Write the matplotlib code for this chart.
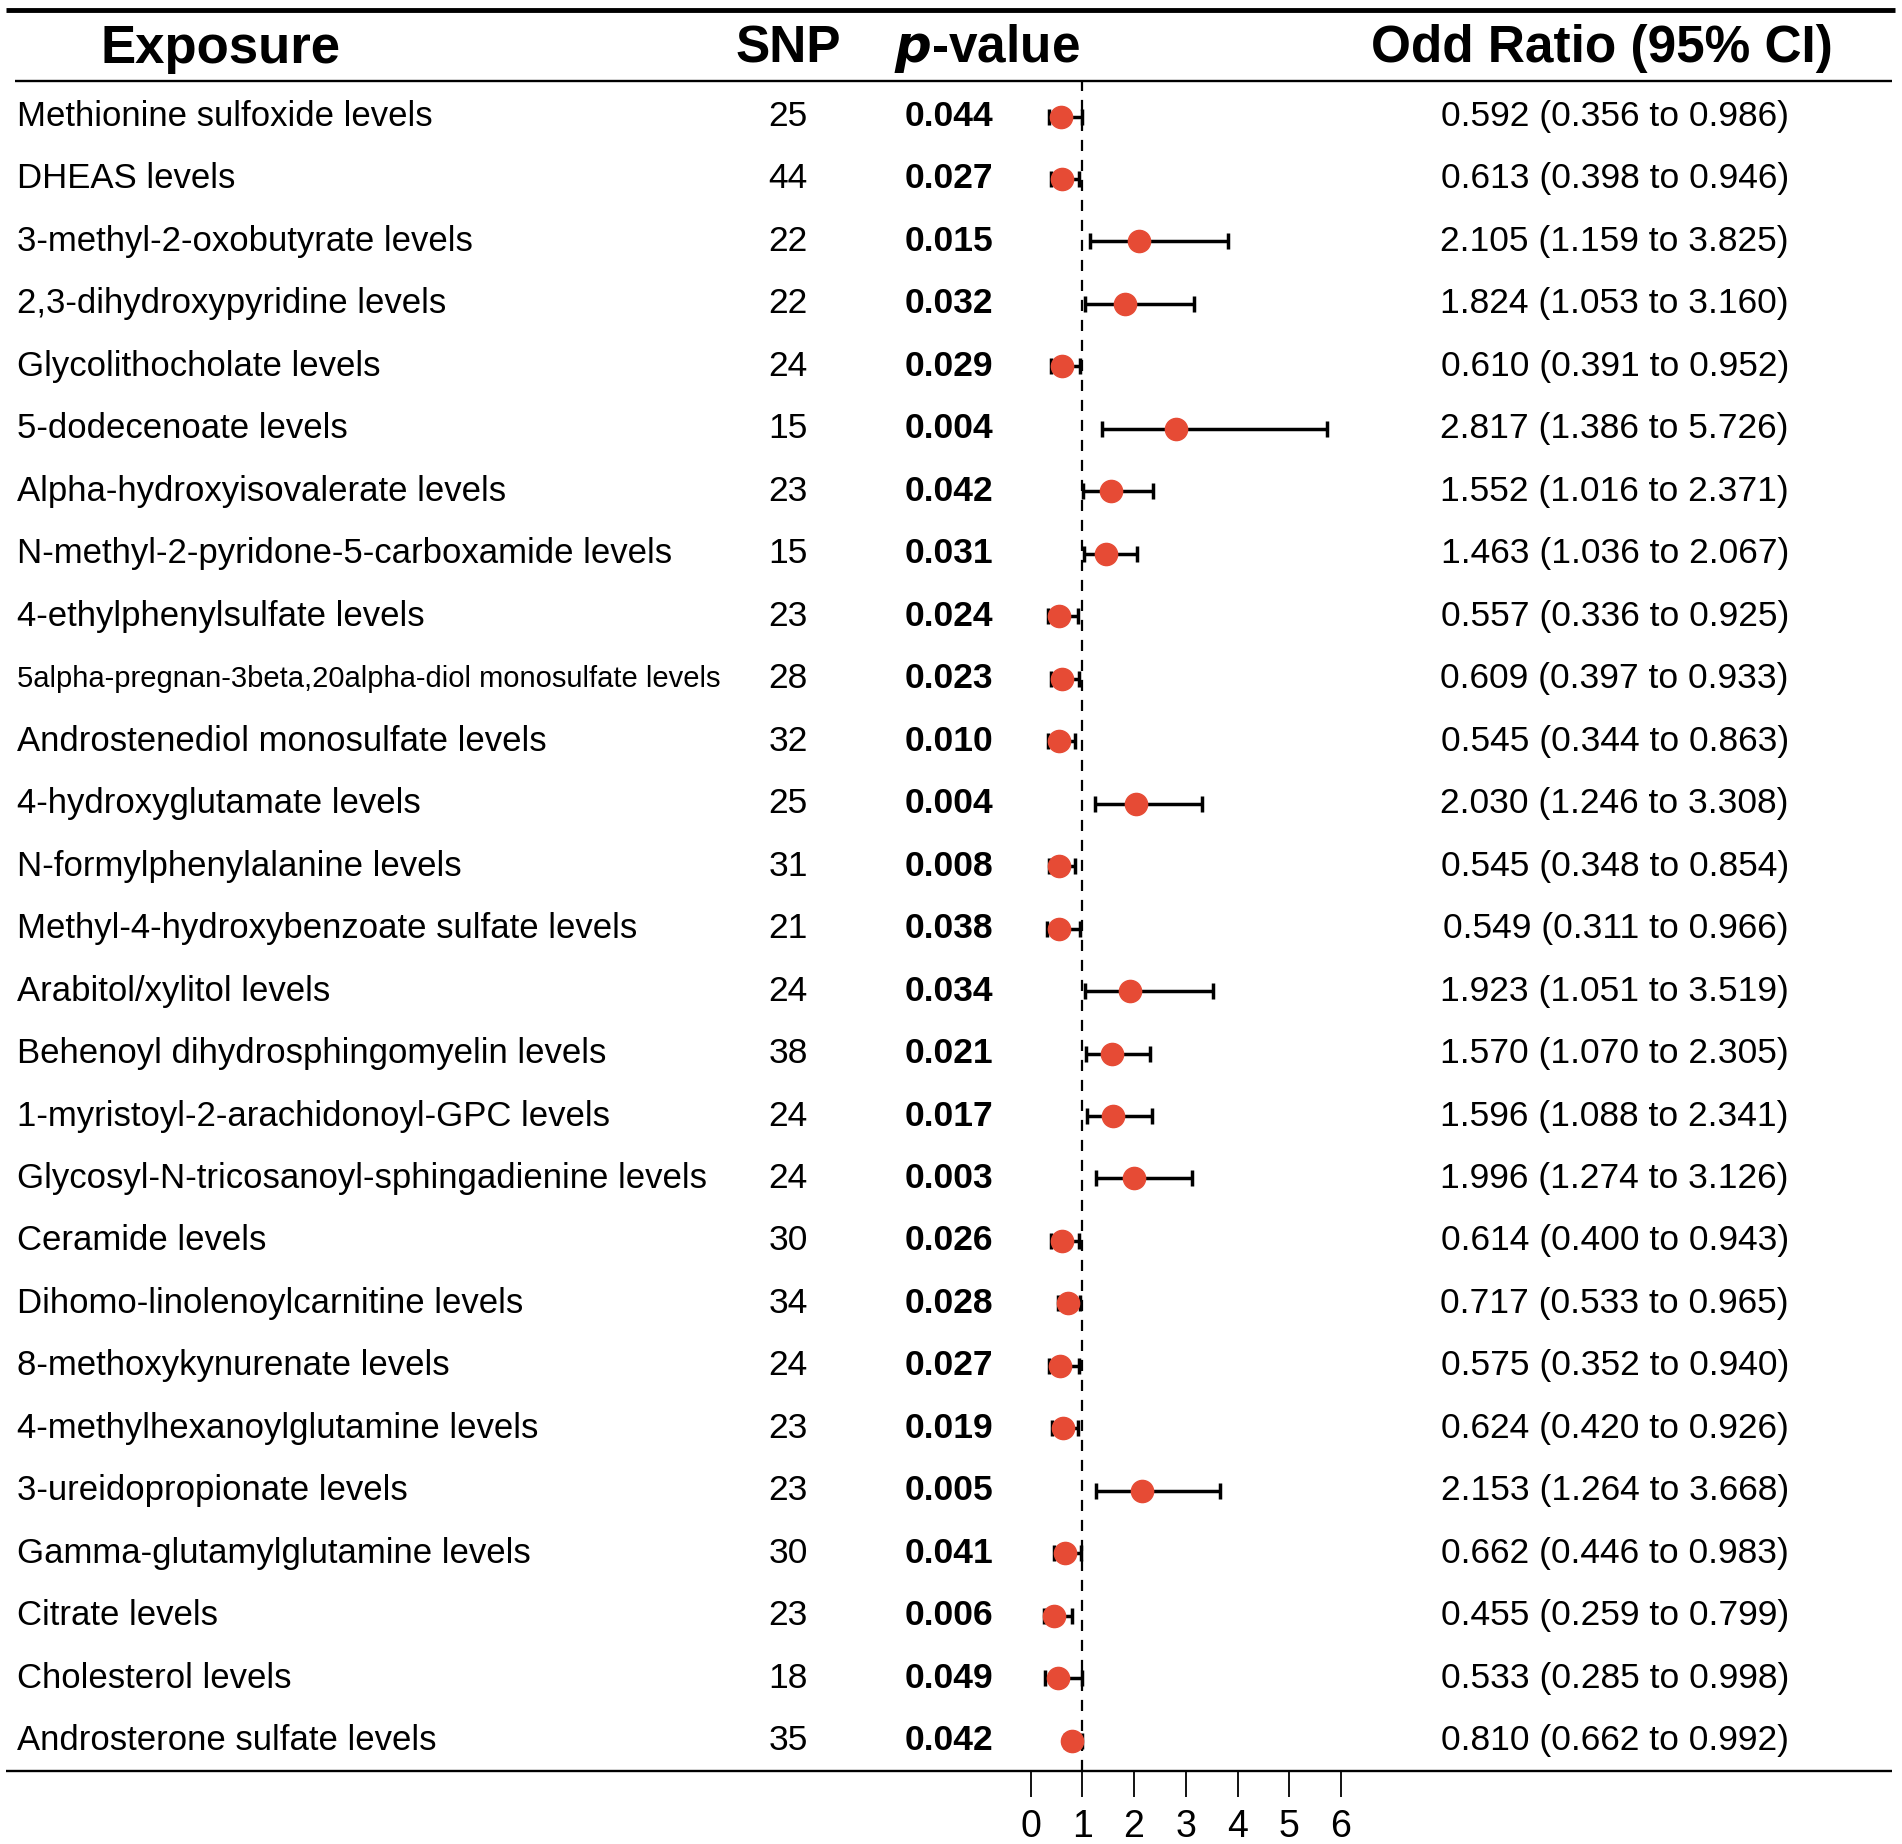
import numpy as np
import matplotlib
matplotlib.use("Agg")
import matplotlib.pyplot as plt

plt.rcParams['font.family'] = ['Liberation Sans', 'DejaVu Sans']

# =============================
# DATA
# =============================
exposures = [
    "Methionine sulfoxide levels",
    "DHEAS levels",
    "3-methyl-2-oxobutyrate levels",
    "2,3-dihydroxypyridine levels",
    "Glycolithocholate levels",
    "5-dodecenoate levels",
    "Alpha-hydroxyisovalerate levels",
    "N-methyl-2-pyridone-5-carboxamide levels",
    "4-ethylphenylsulfate levels",
    "5alpha-pregnan-3beta,20alpha-diol monosulfate levels",
    "Androstenediol monosulfate levels",
    "4-hydroxyglutamate levels",
    "N-formylphenylalanine levels",
    "Methyl-4-hydroxybenzoate sulfate levels",
    "Arabitol/xylitol levels",
    "Behenoyl dihydrosphingomyelin levels",
    "1-myristoyl-2-arachidonoyl-GPC levels",
    "Glycosyl-N-tricosanoyl-sphingadienine levels",
    "Ceramide levels",
    "Dihomo-linolenoylcarnitine levels",
    "8-methoxykynurenate levels",
    "4-methylhexanoylglutamine levels",
    "3-ureidopropionate levels",
    "Gamma-glutamylglutamine levels",
    "Citrate levels",
    "Cholesterol levels",
    "Androsterone sulfate levels",
]
snp = [25, 44, 22, 22, 24, 15, 23, 15, 23, 28, 32, 25, 31, 21, 24, 38, 24, 24,
       30, 34, 24, 23, 23, 30, 23, 18, 35]
pval = ["0.044", "0.027", "0.015", "0.032", "0.029", "0.004", "0.042", "0.031",
        "0.024", "0.023", "0.010", "0.004", "0.008", "0.038", "0.034", "0.021",
        "0.017", "0.003", "0.026", "0.028", "0.027", "0.019", "0.005", "0.041",
        "0.006", "0.049", "0.042"]
odds = [0.592, 0.613, 2.105, 1.824, 0.610, 2.817, 1.552, 1.463, 0.557, 0.609,
        0.545, 2.030, 0.545, 0.549, 1.923, 1.570, 1.596, 1.996, 0.614, 0.717,
        0.575, 0.624, 2.153, 0.662, 0.455, 0.533, 0.810]
ci_low = [0.356, 0.398, 1.159, 1.053, 0.391, 1.386, 1.016, 1.036, 0.336, 0.397,
          0.344, 1.246, 0.348, 0.311, 1.051, 1.070, 1.088, 1.274, 0.400, 0.533,
          0.352, 0.420, 1.264, 0.446, 0.259, 0.285, 0.662]
ci_high = [0.986, 0.946, 3.825, 3.160, 0.952, 5.726, 2.371, 2.067, 0.925, 0.933,
           0.863, 3.308, 0.854, 0.966, 3.519, 2.305, 2.341, 3.126, 0.943, 0.965,
           0.940, 0.926, 3.668, 0.983, 0.799, 0.998, 0.992]
x_ticks = [0, 1, 2, 3, 4, 5, 6]

# =============================
# LAYOUT (pixels of the 1902x1844 canvas)
# =============================
W, H = 1902, 1844
row0, row_step = 116.5, 62.47   # y pixel of first row and spacing


def px_to_row(y):
    return (y - row0) / row_step


fig = plt.figure(figsize=(W / 100, H / 100), dpi=100)

# table axes: x in pixels, y in row units
ax = fig.add_axes([0, 0, 1, 1])
ax.set_xlim(0, W)
ax.set_ylim(px_to_row(H), px_to_row(0))
ax.axis('off')

rows = np.arange(len(exposures))

# headers
hy = px_to_row(49)
ax.text(221, hy, "Exposure", fontsize=38, fontweight='bold', ha='center', va='center')
ax.text(788, hy, "SNP", fontsize=37, fontweight='bold', ha='center', va='center')
ax.text(987, hy, r"$\bfit{p}$-value", fontsize=37, fontweight='bold', ha='center', va='center')
ax.text(1602, hy, "Odd Ratio (95% CI)", fontsize=37, fontweight='bold', ha='center', va='center')

# horizontal rules
ax.plot([6, 1895], [px_to_row(10)] * 2, color='black', lw=3.5, solid_capstyle='butt')
ax.plot([15, 1892], [px_to_row(81)] * 2, color='black', lw=1.7, solid_capstyle='butt')
ax.plot([6, 1892], [px_to_row(1771)] * 2, color='black', lw=1.7, solid_capstyle='butt')

for i in rows:
    fs = 21 if exposures[i].startswith("5alpha") else 25
    ax.text(17, i, exposures[i], fontsize=fs, ha='left', va='center')
    ax.text(788, i, str(snp[i]), fontsize=25.5, ha='center', va='center')
    ax.text(949, i, pval[i], fontsize=25.5, fontweight='bold', ha='center', va='center')
    ax.text(1789, i, f"{odds[i]:.3f} ({ci_low[i]:.3f} to {ci_high[i]:.3f})",
            fontsize=25.5, ha='right', va='center')

# forest axes
x0, x6 = 1030.5, 1341
y_top, y_bot = 81, 1771
fax = fig.add_axes([x0 / W, 1 - y_bot / H, (x6 - x0) / W, (y_bot - y_top) / H])
fax.set_xlim(0, 6)
fax.set_ylim(px_to_row(y_bot), px_to_row(y_top))
fax.patch.set_alpha(0)
for s in fax.spines.values():
    s.set_visible(False)
fax.set_yticks([])
fax.set_xticks(x_ticks)
fax.tick_params(axis='x', length=19, width=1.3, pad=8, labelsize=27, direction='out')

fax.axvline(1, color='black', lw=1.6, ls=(0, (5, 4)), zorder=1)
err = [np.array(odds) - np.array(ci_low), np.array(ci_high) - np.array(odds)]
fax.errorbar(odds, rows, xerr=err, fmt='none', ecolor='black', elinewidth=2.5,
             capsize=6, capthick=2.5, zorder=2)
fax.plot(odds, rows, 'o', color='#E64B35', markersize=16, zorder=3)

fig.savefig("out.png", dpi=100)
